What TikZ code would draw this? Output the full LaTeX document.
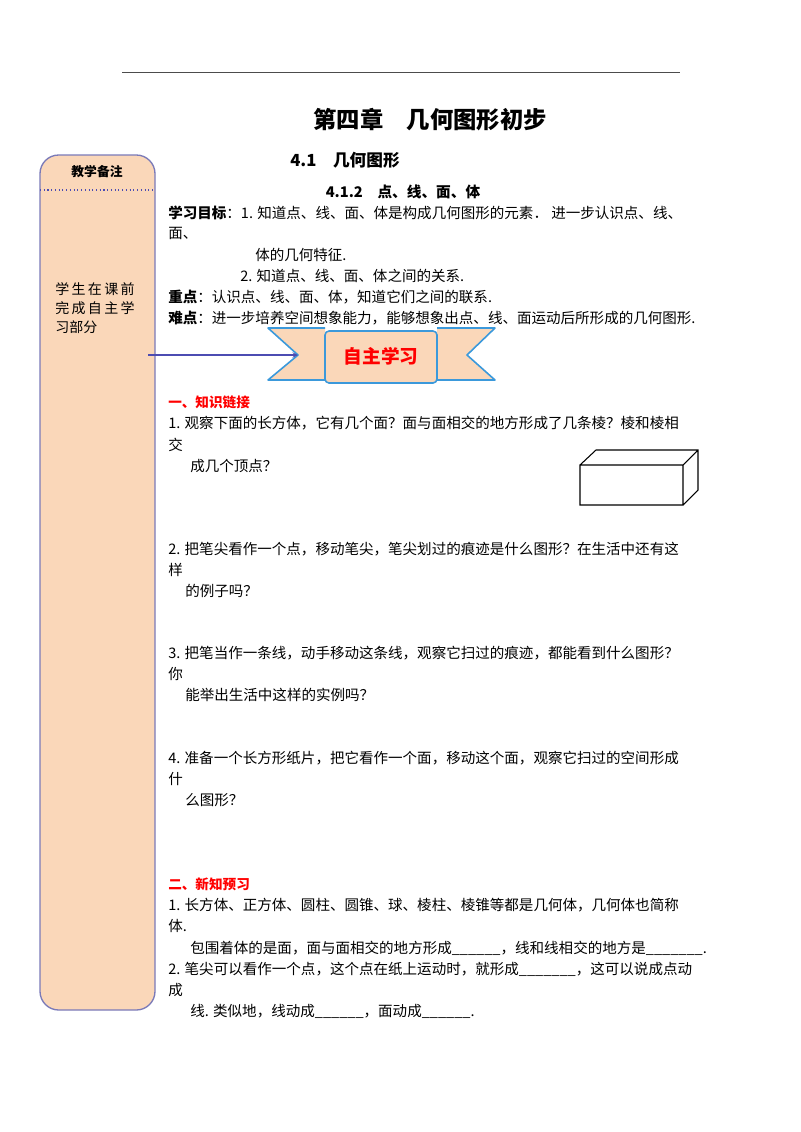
\documentclass[tikz,border=0pt]{standalone}
\usepackage{fontspec}
\setmainfont{Noto Sans CJK SC}
\begin{document}
\begin{tikzpicture}[x=0.75pt,y=-0.75pt,
  txt/.style={anchor=west,inner sep=0pt,font=\fontsize{10.9pt}{12pt}\selectfont},
  hd/.style={txt,text=red,font=\fontsize{10.2pt}{11pt}\selectfont\bfseries},
  ban/.style={draw=cyan!70!blue!80!white,line width=1.2pt,fill=side,line join=round}]
\useasboundingbox (0,0) rectangle (800,1132);
\definecolor{side}{RGB}{250,215,185}
\draw[gray!60!black] (122,72) -- (680,72);
% sidebar
\draw[fill=side,draw=blue!30!gray!80,line width=1pt,rounded corners=14pt] (40,155) rectangle (155,1010);
\draw[dotted,blue!40!gray,thick] (40,190) -- (155,190);
\node[font=\fontsize{9.6pt}{11pt}\selectfont\bfseries] (bz) at (97,172) {教学备注};
\node[anchor=north west,align=left,inner sep=0pt,font=\fontsize{10.5pt}{14.5pt}\selectfont] (sb) at (55,282) {学\,生\,在\,课\,前\\完\,成\,自\,主\,学\\习部分};
% banner
\draw[ban] (325,328) -- (268,328) -- (298,355) -- (268,380) -- (325,380);
\draw[ban] (437,328) -- (495,328) -- (467,355) -- (495,380) -- (437,380);
\draw[ban,rounded corners=3pt] (325,331) rectangle (437,383);
\node[text=red,font=\fontsize{14pt}{16pt}\selectfont\bfseries] (zz) at (381,356) {自主学习};
\coordinate (as) at (148,355);
\coordinate (ae) at (298,355);
\draw[-stealth,blue!40!gray,thick] (as) -- (ae);
% titles
\node[font=\fontsize{17.5pt}{19pt}\selectfont\bfseries] (t1) at (430,120) {第四章\quad 几何图形初步};
\node[font=\fontsize{12.5pt}{14pt}\selectfont\bfseries] (t2) at (345,160) {4.1\quad 几何图形};
\node[font=\fontsize{11pt}{12pt}\selectfont\bfseries] (t3) at (403,192) {4.1.2\quad 点、线、面、体};
% body
\node[txt] (l1) at (168,213) {\textbf{学习目标}：1. 知道点、线、面、体是构成几何图形的元素．\ 进一步认识点、线、};
\node[txt] (l2) at (168,233) {面、};
\node[txt] (l3) at (255,255) {体的几何特征.};
\node[txt] (l4) at (240,276) {2. 知道点、线、面、体之间的关系.};
\node[txt] (l5) at (168,297) {\textbf{重点}：认识点、线、面、体，知道它们之间的联系.};
\node[txt] (l6) at (168,318) {\textbf{难点}：进一步培养空间想象能力，能够想象出点、线、面运动后所形成的几何图形.};
\node[hd] (h1) at (168,402) {一、知识链接};
\node[txt] (q1) at (168,423) {1. 观察下面的长方体，它有几个面？面与面相交的地方形成了几条棱？棱和棱相};
\node[txt] (q1b) at (168,445) {交};
\node[txt] (q1c) at (190,466) {成几个顶点？};
\draw[thick] (580,465) rectangle (683,505) (580,465) -- (596,450) -- (698,450) -- (698,490) -- (683,505) (683,465) -- (698,450);
\node[txt] (q2) at (168,549) {2. 把笔尖看作一个点，移动笔尖，笔尖划过的痕迹是什么图形？在生活中还有这};
\node[txt] (q2b) at (168,570) {样};
\node[txt] (q2c) at (185,591) {的例子吗？};
\node[txt] (q3) at (168,653) {3. 把笔当作一条线，动手移动这条线，观察它扫过的痕迹，都能看到什么图形？};
\node[txt] (q3b) at (168,674) {你};
\node[txt] (q3c) at (185,695) {能举出生活中这样的实例吗？};
\node[txt] (q4) at (168,758) {4. 准备一个长方形纸片，把它看作一个面，移动这个面，观察它扫过的空间形成};
\node[txt] (q4b) at (168,779) {什};
\node[txt] (q4c) at (185,800) {么图形？};
\node[hd] (h2) at (168,884) {二、新知预习};
\node[txt] (p1) at (168,905) {1. 长方体、正方体、圆柱、圆锥、球、棱柱、棱锥等都是几何体，几何体也简称};
\node[txt] (p1b) at (168,926) {体.};
\node[txt] (p1c) at (190,948) {包围着体的是面，面与面相交的地方形成\_\_\_\_\_\_，线和线相交的地方是\_\_\_\_\_\_\_.};
\node[txt] (p2) at (168,969) {2. 笔尖可以看作一个点，这个点在纸上运动时，就形成\_\_\_\_\_\_\_，这可以说成点动};
\node[txt] (p2b) at (168,990) {成};
\node[txt] (p2c) at (190,1011) {线. 类似地，线动成\_\_\_\_\_\_，面动成\_\_\_\_\_\_.};
\end{tikzpicture}
\end{document}
